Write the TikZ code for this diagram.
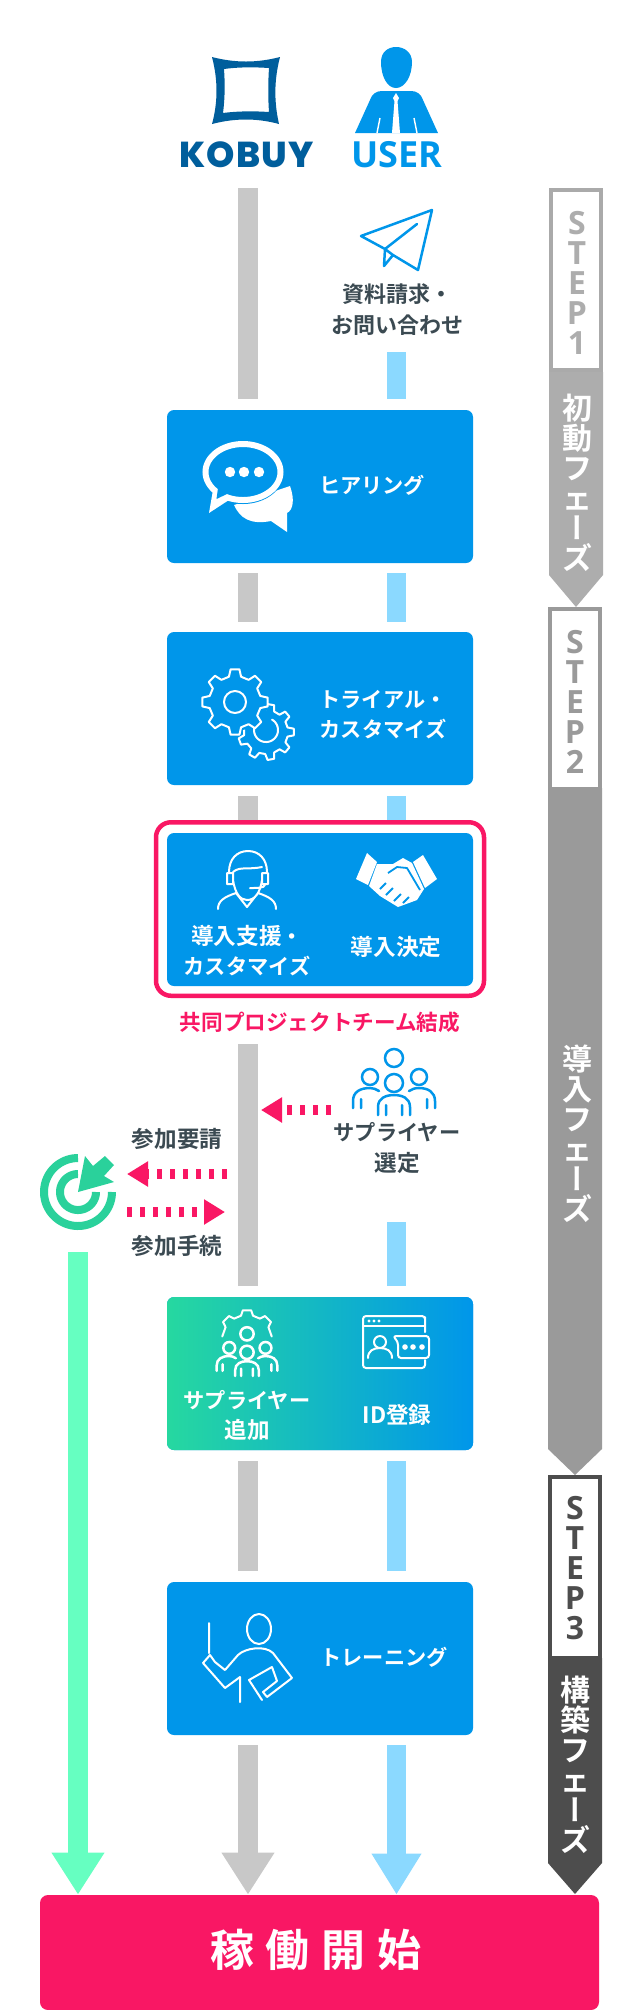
\documentclass[tikz,border=0pt]{standalone}
\usepackage{fontspec}
\usetikzlibrary{arrows.meta, calc}
\newfontfamily\jpmed{Noto Sans CJK JP Bold}
\newfontfamily\jpbold{Noto Sans CJK JP Bold}
\newfontfamily\jpvert{Noto Sans CJK JP Bold}[RawFeature={+vert}]
\newfontfamily\stepfont{Open Sans}
\newfontfamily\kobfont{Poppins ExtraBold}[LetterSpace=3]
\newfontfamily\usrfont{Open Sans}
\newcommand{\kj}[1]{{\fontsize{11.3}{15}\selectfont #1}}
\definecolor{blu}{HTML}{0096EA}
\definecolor{lblu}{HTML}{8BD9FF}
\definecolor{gry}{HTML}{C8C8C8}
\definecolor{pnk}{HTML}{F91764}
\definecolor{grn}{HTML}{2AD19B}
\definecolor{lgrn}{HTML}{26D8A0}
\definecolor{mnt}{HTML}{66FFC1}
\definecolor{kob}{HTML}{005E9C}
\definecolor{ink}{HTML}{3B4A52}
\definecolor{ph1}{HTML}{ADADAD}
\definecolor{ph2}{HTML}{9A9A9A}
\definecolor{ph3}{HTML}{4D4D4D}
\tikzset{
  fbox/.style = {rectangle, rounded corners=3.5pt, fill=blu, minimum width=153pt,
    minimum height=76.5pt, inner sep=0pt},
  frame/.style = {rectangle, rounded corners=7.5pt, draw=pnk, fill=white, line width=2.25pt,
    minimum width=164pt, minimum height=86.75pt, inner sep=0pt},
  wtxt/.style = {font=\jpmed\fontsize{10.6}{15}\selectfont, text=white, align=center, inner sep=0pt},
  dtxt/.style = {font=\jpmed\fontsize{11}{15.5}\selectfont, text=ink, align=center, inner sep=0pt},
  gbar/.style = {draw=gry, line width=10pt},
  ubar/.style = {draw=lblu, line width=9.5pt},
  dots/.style = {draw=pnk, line width=5pt, dash pattern=on 2.5pt off 4pt,
    -{Triangle[width=12pt,length=10.5pt]}},
  icow/.style = {draw=white, line width=1pt, line join=round, line cap=round},
  icou/.style = {draw=blu, line width=1.25pt, line join=round, line cap=round},
  stepbox/.style = {rectangle, draw=#1, line width=1.9pt, fill=white, minimum width=25.1pt,
    minimum height=90.2pt, inner sep=0pt},
  stept/.style = {font=\stepfont\bfseries\fontsize{16}{15}\selectfont, text=#1, align=center, inner sep=0pt},
  phaset/.style = {font=\jpmed\fontsize{15}{15}\selectfont, text=white, align=center, inner sep=0pt,
    text width=20pt},
  people/.pic = {
    \draw [line width=1.25pt, line cap=round] (0,-57) circle [radius=4.5pt]
      (-24,-38) circle [radius=4pt] (25,-38) circle [radius=4pt] (0,-32) circle [radius=4.5pt];
    \draw [line width=1.25pt, line cap=round] (-16,0) -- (-16,-8) .. controls (-16,-17) and (-8,-20) .. (0,-20)
      .. controls (8,-20) and (16,-17) .. (16,-8) -- (16,0)
      (-8,-10) -- (-8,0) (8,-10) -- (8,0)
      (-41,-7) -- (-41,-14) .. controls (-41,-23) and (-34,-27) .. (-24,-27) .. controls (-21,-27) and (-18,-26) .. (-15,-24)
      (41,-7) -- (41,-14) .. controls (41,-23) and (34,-27) .. (25,-27) .. controls (21,-27) and (18,-26) .. (15,-24)
      (-33,-16) -- (-33,-7) (33,-16) -- (33,-7);
  }
}
\newcommand{\gearico}[5]{
  \draw [icow, fill=blu, shift={(#1,#2)}] ({-.3*360/#3}:#5)
    \foreach \t in {0,...,\numexpr#3-1\relax} {
      -- ({(\t-.3)*360/#3}:#5) -- ({(\t-.17)*360/#3}:#4)
      -- ({(\t+.17)*360/#3}:#4) -- ({(\t+.3)*360/#3}:#5)} -- cycle;
}
\begin{document}
\begin{tikzpicture}[x=0.5pt, y=-0.5pt]
  \useasboundingbox (0,0) rectangle (640,2010);
  \fill [white] (0,0) rectangle (640,2010);

  \node [inner sep=0pt, text=kob, font=\kobfont\fontsize{18}{18}\selectfont] (kobuy) at (246.5,154.5) {KOBUY};
  \node [inner sep=0pt, text=blu, font=\usrfont\bfseries\fontsize{18}{18}\selectfont] (user) at (397,154.5) {USER};
  \fill [kob, even odd rule] (212,57) .. controls (235,63) and (257,63) .. (280,57)
    .. controls (274,80) and (274,102) .. (279,124) .. controls (257,118) and (235,118) .. (212,124)
    .. controls (218,102) and (218,80) .. (212,57) -- cycle
    (224,69) .. controls (238,67) and (254,67) .. (269,68) .. controls (268,83) and (268,98) .. (269,112)
    .. controls (254,111) and (238,111) .. (223,113) .. controls (225,98) and (225,83) .. (224,69) -- cycle;
  \fill [blu] (396,47) .. controls (388,47) and (381,52) .. (381,62) .. controls (381,76) and (387,88) .. (396,88)
    .. controls (405,88) and (412,76) .. (412,62) .. controls (412,52) and (404,47) .. (396,47) -- cycle;
  \fill [blu] (355,133) -- (370,100) .. controls (372,94) and (376,91) .. (382,91) -- (411,91)
    .. controls (417,91) and (421,94) .. (423,100) -- (438,133) -- cycle;
  \fill [white] (396,93) -- (399,98) -- (397.5,101) -- (400,133) -- (392,133) -- (394.5,101) -- (393,98) -- cycle;
  \draw [white, line width=.7pt] (380,118) -- (377,133) (414,118) -- (417,133);

  \foreach \nam/\yy in {a/188, b/399, c/573, d/622, e/796, f/820, g/1044, h/1286, i/1461, j/1571, k/1745}
    \coordinate (g\nam) at (248,\yy);
  \foreach \nam/\yy in {a/352, b/399, c/573, d/622, e/796, f/820, g/1222, h/1286, i/1461, j/1571, k/1745}
    \coordinate (u\nam) at (396.5,\yy);
  \foreach \p/\q in {a/b, c/d, e/f, g/h, i/j} {
    \draw [gbar] (g\p) -- (g\q);
    \draw [ubar] (u\p) -- (u\q);
  }

  \node [fbox, fill=pnk, minimum width=279.5pt, minimum height=57.5pt, rounded corners=4pt] (start) at (319.5,1952.5) {};
  \node [inner sep=0pt, text=white, font=\jpbold\fontsize{22}{22}\selectfont] (startt) at (316,1950)
    {稼\kern6pt 働\kern6pt 開\kern6pt 始};

  \coordinate (mt) at (78,1252);
  \draw [draw=mnt, line width=10pt, -{Triangle[width=25pt,length=21pt]}] (mt) -- (mt |- start.north);
  \draw [gbar, -{Triangle[width=25pt,length=21pt]}] (gk) -- (gk |- start.north);
  \draw [ubar, -{Triangle[width=23.5pt,length=20.5pt]}] (uk) -- (uk |- start.north);

  \node [fbox] (hearbox) at (320,486.5) {};
  \node [wtxt] (hear) at (372,485) {ヒアリング};
  \fill [white] (290,486) .. controls (295,500) and (293,510) .. (287,513) -- (287,532) -- (271,521)
    .. controls (250,525) and (240,518) .. (234,505) -- cycle;
  \draw [blu, line width=2pt, fill=blu] (243,472) ellipse [x radius=19.5pt, y radius=15pt];
  \draw [white, line width=3pt, fill=blu] (243,472) ellipse [x radius=18.75pt, y radius=14pt];
  \fill [white] (213,490) -- (209,513) -- (232,498) -- cycle;
  \fill [blu] (218,488) -- (216.5,499) -- (229,493) -- (235,484) -- cycle;
  \foreach \dx in {230,244,259} \fill [white] (\dx,472) circle [radius=2.6pt];

  \node [fbox] (trialbox) at (320,708.5) {};
  \node [wtxt] (trial) at (383,715) {トライアル・\\カスタマイズ};
  \gearico{266}{732}{9}{28}{22}
  \fill [blu] (240,702) circle [radius=14pt];
  \draw [icow] plot [domain=-60:190, samples=40] ({266+12*cos(\x)},{730+12*sin(\x)});
  \gearico{235}{702}{8}{33}{26}
  \draw [icow] (235,702) circle [radius=5.5pt];

  \node [frame] (teamframe) at (320,909) {};
  \node [fbox] (teambox) at (320,909.5) {};
  \node [wtxt] (support) at (247,951) {\kj{導入支援}・\\カスタマイズ};
  \node [wtxt] (decide) at (396,947) {\kj{導入決定}};
  \node [inner sep=0pt, text=pnk, font=\jpbold\fontsize{10.8}{15}\selectfont] (team) at (320,1022) {共同プロジェクトチーム結成};
  \draw [icow] (229,872) .. controls (229,859) and (237,851) .. (248,851) .. controls (259,851) and (267,859) .. (267,872)
    (227,873) rectangle (233,884) (262,873) rectangle (268,884)
    (233,872) .. controls (240,866) and (248,870) .. (262,867)
    (233,880) .. controls (235,893) and (240,900) .. (247,900) .. controls (255,900) and (260,893) .. (262,880)
    (265,885) .. controls (264,888) and (258,888) .. (250,888)
    (218,909) .. controls (218,901) and (224,897) .. (236,893)
    (276,909) .. controls (276,901) and (270,897) .. (258,893)
    (236,893) -- (247,907) -- (258,893);
  \fill [white] (367,853) -- (356,879) -- (368,885) -- (377,862) -- cycle
    (423,855) -- (413,862) -- (425,888) -- (437,879) -- cycle
    (377,864) -- (393,864) -- (403,858) -- (412,863) -- (424,889) -- (417,900) -- (398,907) -- (380,896) -- (369,886) -- cycle;
  \draw [blu, line width=.9pt, line join=round] (388,873) -- (397,867) -- (407,868) -- (420,890)
    (380,889) -- (386,883) (386,895) -- (393,888) (394,901) -- (401,894) (403,903) -- (409,897);

  \pic [color=blu] at (394,1115) {people};
  \node [dtxt, font=\jpmed\fontsize{10.6}{15.5}\selectfont] (select) at (397,1148.5) {サプライヤー\\\kj{選定}};
  \coordinate (sela) at (331,1110);
  \coordinate (selb) at (261,1110);
  \draw [dots] (sela) -- (selb);

  \node [dtxt] (askt) at (177,1139) {\kj{参加要請}};
  \coordinate (aska) at (227,1174);
  \coordinate (askb) at (127,1174);
  \draw [dots] (aska) -- (askb);
  \node [dtxt] (joint) at (177,1246) {\kj{参加手続}};
  \coordinate (joina) at (127,1212);
  \coordinate (joinb) at (225,1212);
  \draw [dots] (joina) -- (joinb);

  \draw [grn, line width=4pt] plot [domain=0:270, samples=60] ({78+34*cos(\x)},{1192+34*sin(\x)});
  \draw [grn, line width=4pt] plot [domain=0:270, samples=60] ({78+18*cos(\x)},{1192+18*sin(\x)});
  \draw [white, line width=2.5pt, fill=grn, line join=miter] (78,1192) -- (85,1156) -- (93,1166) -- (105,1156) -- (114,1165)
    -- (104,1176) -- (114,1182) -- cycle;
  \fill [grn] (78,1192) -- (85,1156) -- (93,1166) -- (105,1156) -- (114,1165) -- (104,1176) -- (114,1182) -- cycle;

  \node [fbox, shade, left color=lgrn, right color=blu, shading angle=90] (addbox) at (320,1373.5) {};
  \node [wtxt] (addt) at (247,1415.5) {サプライヤー\\\kj{追加}};
  \node [wtxt] (idt) at (397,1415) {\kj{ID登録}};
  \pic [color=white, scale=.74] at (247,1376) {people};
  \draw [icow, shift={(247,1340)}] (188:25) \foreach \t in {225,270,315} {
      -- (\t-14:25) -- (\t-8:30) -- (\t+8:30) -- (\t+14:25)} -- (352:25);
  \draw [icow, rounded corners=1.5pt] (425,1332) -- (425,1320) -- (425,1316) -- (363,1316) -- (363,1368) -- (425,1368) -- (425,1360);
  \draw [icow] (363,1326) -- (425,1326);
  \foreach \dx in {369,374,379} \fill [white] (\dx,1321) circle [radius=.8pt];
  \draw [icow] (380,1342) circle [radius=3pt];
  \draw [icow] (368,1358) .. controls (368,1351) and (373,1348) .. (380,1348) .. controls (387,1348) and (392,1351) .. (392,1358);
  \draw [icow, rounded corners=1.5pt] (393,1336) -- (429,1336) -- (429,1358) -- (398,1358) -- (398,1342) -- cycle;
  \foreach \dx in {405,413,422} \fill [white] (\dx,1347) circle [radius=1.4pt];

  \node [fbox] (trainbox) at (320,1658.5) {};
  \node [wtxt] (train) at (384,1657) {トレーニング};
  \draw [icow] (259,1629) ellipse [x radius=6pt, y radius=7.5pt];
  \draw [icow] (209,1623) -- (209,1653)
    (240,1677) -- (240,1702)
    (225,1670) -- (238,1655) .. controls (245,1648) and (265,1645) .. (273,1653) -- (292,1678) -- (267,1697) -- (263,1692) -- (277,1681)
    (272,1667) -- (249,1680) -- (262,1700)
    (272,1667) -- (277,1681)
    (225,1670) -- (215,1662) -- (210,1655) -- (203,1663) -- (225,1688) -- (240,1677);

  \fill [ph1] (549,372) -- (603,372) -- (603,575) -- (576,607) -- (549,575) -- cycle;
  \fill [ph2] (548,788) -- (602,788) -- (602,1449) -- (575,1475) -- (548,1449) -- cycle;
  \fill [ph3] (548,1658) -- (602,1658) -- (602,1863) -- (575,1894) -- (548,1863) -- cycle;
  \node [stepbox=gry!85!black] (step1) at (576,280) {};
  \node [stepbox=ph2] (step2) at (575,699) {};
  \node [stepbox=ph3] (step3) at (575,1567.5) {};
  \node [stept=ph1] (step1t) at (577,282.5) {S\\T\\E\\P\\1};
  \node [stept=ph2] (step2t) at (575,702) {S\\T\\E\\P\\2};
  \node [stept=ph3] (step3t) at (575,1568.5) {S\\T\\E\\P\\3};
  \node [phaset] (phase1) at (577,483) {初\\動\\フ\\ェ\\{\jpvert ー}\\ズ};
  \node [phaset] (phase2) at (577,1134) {導\\入\\フ\\ェ\\{\jpvert ー}\\ズ};
  \node [phaset] (phase3) at (575,1765) {構\\築\\フ\\ェ\\{\jpvert ー}\\ズ};

  \draw [icou] (361,236) -- (432,210) -- (418,270) -- (393,255) -- (384,266) -- (385,249) -- cycle
    (385,249) -- (417,224) (385,249) -- (393,255);
  \node [dtxt] (request) at (397,309.5) {資料請求・\\お問い合わせ};
\end{tikzpicture}
\end{document}
